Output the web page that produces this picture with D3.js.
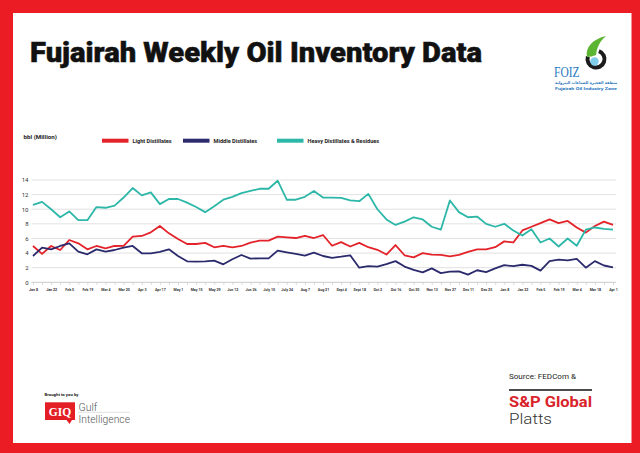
<!DOCTYPE html>
<html>
<head>
<meta charset="utf-8">
<script src="https://cdn.jsdelivr.net/npm/d3@7"></script>
<style>
  body { margin: 0; background: #fff; }
  svg { display: block; }
</style>
</head>
<body>
<svg id="chart" width="640" height="453"></svg>
<script>
// Weekly report dates (only every other one is labelled on the axis)
const weeks = [
  "Jan 8", "Jan 15", "Jan 22", "Jan 29", "Feb 5", "Feb 12", "Feb 19", "Feb 26", "Mar 4", "Mar 12",
  "Mar 20", "Mar 27", "Apr 3", "Apr 10", "Apr 17", "Apr 24", "May 1", "May 8", "May 15", "May 22",
  "May 29", "Jun 5", "Jun 12", "Jun 19", "Jun 26", "July 3", "July 10", "July 17", "July 24", "July 31",
  "Aug 7", "Aug 14", "Aug 21", "Aug 28", "Sept 4", "Sept 11", "Sept 18", "Sept 25", "Oct 2", "Oct 9",
  "Oct 16", "Oct 23", "Oct 30", "Nov 6", "Nov 13", "Nov 20", "Nov 27", "Dec 4", "Dec 11", "Dec 18",
  "Dec 25", "Jan 1", "Jan 8", "Jan 15", "Jan 22", "Jan 29", "Feb 5", "Feb 12", "Feb 19", "Feb 26",
  "Mar 4", "Mar 11", "Mar 18", "Mar 25", "Apr 1"
];
const labelEvery = 2;

// Stocks, million barrels
const lightDistillates = [
  4.97, 3.88, 4.97, 4.42, 5.79, 5.33, 4.51, 4.97, 4.65, 4.97,
  5.0, 6.25, 6.34, 6.84, 7.7, 6.7, 5.93, 5.24, 5.24, 5.4,
  4.79, 4.97, 4.79, 4.97, 5.43, 5.7, 5.7, 6.25, 6.16, 6.06,
  6.34, 6.06, 6.47, 5.0, 5.5, 4.9, 5.4, 4.8, 4.45, 3.8,
  5.1, 3.7, 3.42, 4.0, 3.78, 3.75, 3.55, 3.75, 4.15, 4.5,
  4.5, 4.8, 5.6, 5.45, 7.1, 7.6, 8.1, 8.6, 8.1, 8.4,
  7.5, 6.8, 7.7, 8.3, 7.85
];
const middleDistillates = [
  3.6, 4.74, 4.51, 4.97, 5.33, 4.2, 3.83, 4.51, 4.2, 4.42,
  4.74, 4.97, 3.97, 3.97, 4.15, 4.51, 3.6, 2.87, 2.83, 2.87,
  2.96, 2.46, 3.15, 3.74, 3.24, 3.28, 3.28, 4.33, 4.1, 3.88,
  3.65, 4.06, 3.6, 3.35, 3.5, 3.7, 2.0, 2.2, 2.15, 2.5,
  2.9, 2.15, 1.7, 1.35, 1.9, 1.25, 1.45, 1.5, 1.05, 1.65,
  1.4, 1.9, 2.35, 2.2, 2.4, 2.25, 1.6, 2.9, 3.1, 3.0,
  3.2, 2.0, 2.9, 2.3, 2.05
];
const heavyDistillates = [
  10.6, 11.0, 10.0, 8.9, 9.7, 8.5, 8.5, 10.3, 10.2, 10.5,
  11.6, 12.9, 11.9, 12.3, 10.7, 11.4, 11.4, 10.9, 10.3, 9.6,
  10.4, 11.3, 11.7, 12.2, 12.5, 12.8, 12.8, 13.9, 11.3, 11.3,
  11.7, 12.5, 11.6, 11.6, 11.55, 11.2, 11.1, 12.1, 10.0, 8.6,
  7.85, 8.3, 8.9, 8.6, 7.6, 7.2, 11.2, 9.6, 8.9, 9.0,
  8.0, 7.6, 8.0, 7.1, 6.4, 7.25, 5.45, 6.0, 4.9, 6.0,
  5.0, 7.2, 7.5, 7.3, 7.2
];
const yTicks = [0, 2, 4, 6, 8, 10, 12, 14];

const seriesList = [
  { name: "Light Distillates", values: lightDistillates, color: "#e3222a" },
  { name: "Middle Distillates", values: middleDistillates, color: "#2b2a6c" },
  { name: "Heavy Distillates & Residues", values: heavyDistillates, color: "#2db7a8" }
];

const svg = d3.select("#chart");
const font = "Roboto, 'Liberation Sans', Arial, sans-serif";

// Red frame and white card
svg.append("rect").attr("width", 640).attr("height", 453).attr("fill", "#ec1c24");
svg.append("rect").attr("x", 13).attr("y", 13).attr("width", 618.5).attr("height", 430).attr("fill", "#fff");

// Title
svg.append("text")
  .attr("x", 30).attr("y", 62)
  .attr("font-family", font).attr("font-weight", 900).attr("font-size", 28)
  .attr("textLength", 452).attr("lengthAdjust", "spacingAndGlyphs")
  .attr("fill", "#111").attr("stroke", "#111").attr("stroke-width", 0.5)
  .text("Fujairah Weekly Oil Inventory Data");

// FOIZ logo
const logo = svg.append("g");
logo.append("path")
  .attr("d", d3.arc().innerRadius(6.5).outerRadius(10.5).startAngle(0.35).endAngle(5.0)())
  .attr("transform", "translate(596,59)")
  .attr("fill", "#1b1b1b");
logo.append("path")
  .attr("d", "M587 57 C585 47,593 39,606 36 C600 41,597 47,596 55 C593 56,590 57,587 57 Z")
  .attr("fill", "#5cb532");
logo.append("circle").attr("cx", 594.5).attr("cy", 61.5).attr("r", 4.2).attr("fill", "#7fcdea");
logo.append("text")
  .attr("x", 554).attr("y", 76.5)
  .attr("font-family", "'Liberation Serif', 'DejaVu Serif', serif").attr("font-size", 15.5)
  .attr("textLength", 25.5).attr("lengthAdjust", "spacingAndGlyphs")
  .attr("fill", "#2a78bd").text("FOIZ");
logo.append("text")
  .attr("x", 555).attr("y", 84.3)
  .attr("font-family", "'DejaVu Sans', sans-serif").attr("font-size", 4.1).attr("font-weight", "bold")
  .attr("textLength", 62).attr("lengthAdjust", "spacingAndGlyphs")
  .attr("fill", "#2a78bd").text("منطقة الفجيرة للصناعات البترولية");
logo.append("text")
  .attr("x", 555).attr("y", 89.6)
  .attr("font-family", font).attr("font-size", 4.4).attr("font-weight", "bold")
  .attr("textLength", 62).attr("lengthAdjust", "spacingAndGlyphs")
  .attr("fill", "#2a78bd").text("Fujairah Oil Industry Zone");

// Plot area
const x = d3.scalePoint().domain(d3.range(weeks.length)).range([33, 613]);
const y = d3.scaleLinear().domain([0, 14]).range([282.3, 180]);

// Gridlines
svg.append("g").selectAll("line").data(yTicks.filter(d => d > 0)).enter()
  .append("line")
  .attr("x1", 31.5).attr("x2", 616)
  .attr("y1", d => y(d)).attr("y2", d => y(d))
  .attr("stroke", "#d9d9d9").attr("stroke-width", 0.8);

// Y axis labels
const yAxis = svg.append("g")
  .attr("transform", "translate(31,0)")
  .call(d3.axisLeft(y).tickValues(yTicks).tickSize(0).tickPadding(2.5));
yAxis.select(".domain").remove();
yAxis.selectAll("text").attr("font-family", font).attr("font-size", 6).attr("fill", "#333");

// X axis
const xAxis = svg.append("g")
  .attr("transform", `translate(0,${y(0)})`)
  .call(d3.axisBottom(x).tickSize(2.5).tickPadding(4)
    .tickFormat(i => i % labelEvery === 0 ? weeks[i] : ""));
xAxis.select(".domain").attr("d", "M31.5,0H616").attr("stroke", "#bfbfbf").attr("stroke-width", 0.8);
xAxis.selectAll(".tick line").attr("stroke", "#bfbfbf").attr("stroke-width", 0.6);
xAxis.selectAll("text")
  .attr("font-family", font).attr("font-size", 3.6).attr("font-weight", "bold").attr("fill", "#333");

// Series lines
const line = d3.line().x((d, i) => x(i)).y(d => y(d));
seriesList.forEach(s => {
  svg.append("path")
    .datum(s.values)
    .attr("d", line)
    .attr("fill", "none")
    .attr("stroke", s.color)
    .attr("stroke-width", 1.8)
    .attr("stroke-linejoin", "round");
});

// Unit label
svg.append("text")
  .attr("x", 23.5).attr("y", 139)
  .attr("font-family", font).attr("font-size", 6.2).attr("font-weight", "bold").attr("fill", "#222")
  .text("bbl (Million)");

// Legend
const legendX = [102, 183, 277];
const legend = svg.append("g").selectAll("g").data(seriesList).enter()
  .append("g")
  .attr("transform", (d, i) => `translate(${legendX[i]},140.7)`);
legend.append("rect")
  .attr("x", 0).attr("y", -2).attr("width", 26.5).attr("height", 4)
  .attr("fill", d => d.color);
legend.append("text")
  .attr("x", 30.5).attr("y", 2)
  .attr("font-family", font).attr("font-size", 5.6).attr("font-weight", "bold").attr("fill", "#222")
  .text(d => d.name);

// Sponsor block, bottom left
svg.append("text")
  .attr("x", 44.5).attr("y", 396)
  .attr("font-family", font).attr("font-size", 4.3).attr("font-weight", "bold").attr("fill", "#222")
  .text("Brought to you by");
svg.append("rect").attr("x", 45).attr("y", 402.3).attr("width", 30).attr("height", 17.7).attr("fill", "#e31e24");
svg.append("path").attr("d", "M66.5 420 L72 420 L69.5 424 Z").attr("fill", "#e31e24");
svg.append("text")
  .attr("x", 60).attr("y", 415.8).attr("text-anchor", "middle")
  .attr("font-family", "'Liberation Serif', serif").attr("font-size", 11.5).attr("font-weight", "bold")
  .attr("fill", "#fff").text("GIQ");
svg.append("line").attr("x1", 78).attr("x2", 130).attr("y1", 412.3).attr("y2", 412.3)
  .attr("stroke", "#cfcfcf").attr("stroke-width", 0.6);
svg.append("text")
  .attr("x", 78.5).attr("y", 410.5)
  .attr("font-family", font).attr("font-size", 10.5).attr("font-weight", 300).attr("fill", "#555")
  .text("Gulf");
svg.append("text")
  .attr("x", 78.5).attr("y", 422.7)
  .attr("font-family", font).attr("font-size", 10.5).attr("font-weight", 300).attr("fill", "#555")
  .attr("textLength", 51.5).attr("lengthAdjust", "spacingAndGlyphs")
  .text("Intelligence");

// Source block, bottom right
svg.append("text")
  .attr("x", 509).attr("y", 379.3)
  .attr("font-family", font).attr("font-size", 8).attr("fill", "#222")
  .attr("textLength", 67).attr("lengthAdjust", "spacingAndGlyphs")
  .text("Source: FEDCom &");
svg.append("line").attr("x1", 509).attr("x2", 592).attr("y1", 390).attr("y2", 390)
  .attr("stroke", "#111").attr("stroke-width", 1.6);
svg.append("text")
  .attr("x", 509).attr("y", 406.5)
  .attr("font-family", font).attr("font-size", 15).attr("font-weight", "bold").attr("fill", "#d9232a")
  .attr("textLength", 83).attr("lengthAdjust", "spacingAndGlyphs")
  .text("S&P Global");
svg.append("text")
  .attr("x", 509).attr("y", 424.3)
  .attr("font-family", font).attr("font-size", 15).attr("font-weight", 300).attr("fill", "#333")
  .attr("textLength", 43).attr("lengthAdjust", "spacingAndGlyphs")
  .text("Platts");
</script>
</body>
</html>
